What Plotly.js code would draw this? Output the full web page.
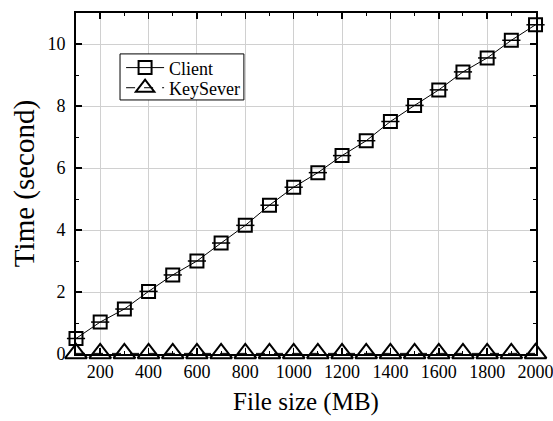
<!DOCTYPE html>
<html>
<head>
<meta charset="utf-8">
<script src="https://cdn.plot.ly/plotly-3.0.1.min.js"></script>
<style>
  html, body { margin: 0; padding: 0; background: #fff; }
  #chart { width: 553px; height: 421px; }
</style>
</head>
<body>
<div id="chart"></div>
<script>
const fileSizes = [100, 200, 300, 400, 500, 600, 700, 800, 900, 1000, 1100, 1200, 1300, 1400, 1500, 1600, 1700, 1800, 1900, 2000];
const clientTimes = [0.5, 1.03, 1.45, 2.02, 2.55, 3.0, 3.58, 4.15, 4.8, 5.38, 5.85, 6.4, 6.88, 7.5, 8.02, 8.52, 9.1, 9.55, 10.12, 10.62];
const keyServerTimes = [0.02, 0.02, 0.02, 0.02, 0.02, 0.02, 0.02, 0.02, 0.02, 0.02, 0.02, 0.02, 0.02, 0.02, 0.02, 0.02, 0.02, 0.02, 0.02, 0.02];
const seriesNames = ['Client', 'KeySever'];

const FONT = 'Liberation Serif, Times New Roman, serif';

const traces = [
  {
    x: fileSizes, y: clientTimes, name: seriesNames[0], type: 'scatter', mode: 'lines+markers',
    line: {color: '#000', width: 1},
    marker: {symbol: 'square-open', size: 13, color: '#000', line: {width: 2, color: '#000'}},
    cliponaxis: false, legend: 'legend'
  },
  {
    x: fileSizes, y: clientTimes, name: seriesNames[0], type: 'scatter', mode: 'markers',
    showlegend: false, hoverinfo: 'skip',
    marker: {symbol: 'line-ew', size: 13, color: '#000', line: {width: 1.5, color: '#000'}},
    cliponaxis: false
  },
  {
    x: fileSizes, y: keyServerTimes, name: seriesNames[1], type: 'scatter', mode: 'lines+markers',
    line: {color: '#000', width: 1, dash: 'dash'},
    marker: {symbol: 'triangle-up-open', size: 19, color: '#000', line: {width: 2, color: '#000'}},
    cliponaxis: false, legend: 'legend2'
  }
];

const axisCommon = {
  showline: true, linecolor: '#000', linewidth: 2, mirror: 'ticks',
  ticks: 'inside', ticklen: 6, tickwidth: 1.5, tickcolor: '#000',
  showgrid: true, gridcolor: '#d0d0d0', gridwidth: 1,
  zeroline: false, ticklabeloverflow: 'allow',
  tickfont: {family: FONT, size: 18, color: '#000'}
};

const legendCommon = {
  xanchor: 'left', yanchor: 'middle',
  bgcolor: 'rgba(0,0,0,0)', borderwidth: 0,
  font: {family: FONT, size: 18, color: '#000'},
  itemwidth: 38
};

const layout = {
  width: 553, height: 421,
  margin: {l: 76, r: 17, t: 13, b: 67},
  paper_bgcolor: '#fff', plot_bgcolor: '#fff',
  font: {family: FONT, color: '#000'},
  xaxis: Object.assign({}, axisCommon, {
    range: [100, 2002], tick0: 0, dtick: 200,
    minor: {dtick: 100, ticks: 'inside', ticklen: 3, tickcolor: '#000', tickwidth: 1, showgrid: false},
    title: {text: 'File size (MB)', font: {family: FONT, size: 25, color: '#000'}, standoff: 12}
  }),
  yaxis: Object.assign({}, axisCommon, {
    range: [0, 11], tick0: 0, dtick: 2, ticklabelstandoff: 5,
    minor: {dtick: 1, ticks: 'inside', ticklen: 3, tickcolor: '#000', tickwidth: 1, showgrid: false},
    title: {text: 'Time (second)', font: {family: FONT, size: 29, color: '#000'}, standoff: 4}
  }),
  shapes: [{
    type: 'rect', xref: 'paper', yref: 'paper', layer: 'above',
    x0: 0.0957, x1: 0.365, y0: 0.745, y1: 0.88,
    fillcolor: '#fff', line: {color: '#000', width: 1}
  }],
  showlegend: true,
  legend: Object.assign({}, legendCommon, {x: 0.098, y: 0.839}),
  legend2: Object.assign({}, legendCommon, {x: 0.098, y: 0.780})
};

Plotly.newPlot('chart', traces, layout, {displayModeBar: false, staticPlot: true});
</script>
</body>
</html>
